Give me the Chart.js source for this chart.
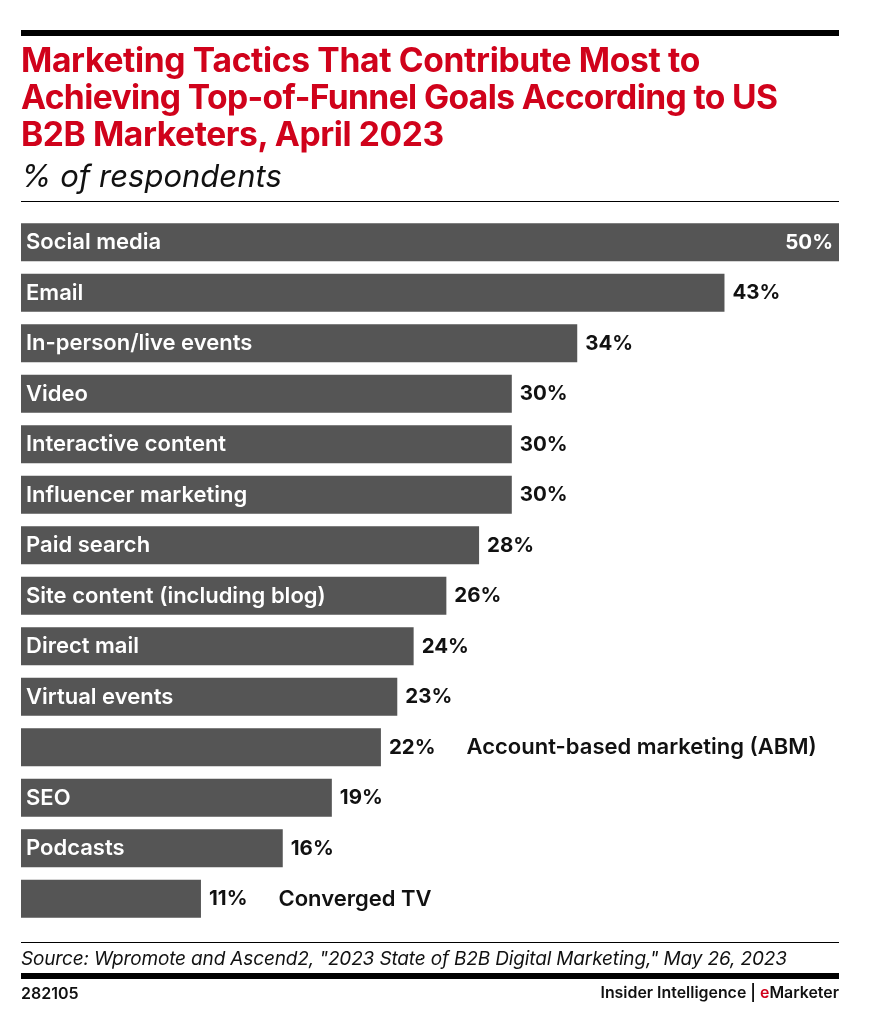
<!DOCTYPE html>
<html>
<head>
<meta charset="utf-8">
<script src="https://cdn.jsdelivr.net/npm/chart.js@4"></script>
<style>
  html, body { margin: 0; padding: 0; background: #fff; }
  #page { position: relative; width: 873px; height: 1024px; overflow: hidden; font-family: Inter, sans-serif; color: #111; }
  #page div { position: absolute; white-space: nowrap; }
  canvas { position: absolute; left: 0; top: 0; }
  .rule { left: 21px; width: 818px; background: #000; }
  .title { left: 21px; font-size: 33.6px; line-height: 38px; font-weight: 700; color: #d0021b; letter-spacing: -0.6px; }
</style>
</head>
<body>
<div id="page">
  <canvas id="chart" width="873" height="1024"></canvas>
  <div class="rule" style="top:30px;height:6px"></div>
  <div class="title" style="top:41px;letter-spacing:-0.33px">Marketing Tactics That Contribute Most to</div>
  <div class="title" style="top:78px">Achieving Top-of-Funnel Goals According to US</div>
  <div class="title" style="top:115px;letter-spacing:-0.4px">B2B Marketers, April 2023</div>
  <div style="left:21px;top:157px;font-size:31px;line-height:38px;font-style:italic;font-weight:400">% of respondents</div>
  <div class="rule" style="top:201px;height:1px"></div>
  <div class="rule" style="top:942px;height:1px"></div>
  <div style="left:21px;top:947px;font-size:19px;line-height:24px;font-style:italic;font-weight:400;letter-spacing:-0.15px">Source: Wpromote and Ascend2, "2023 State of B2B Digital Marketing," May 26, 2023</div>
  <div class="rule" style="top:973px;height:6px"></div>
  <div style="left:21px;top:983px;font-size:16px;line-height:20px;font-weight:600">282105</div>
  <div style="right:34px;top:983px;font-size:15.9px;line-height:20px;font-weight:600">Insider Intelligence | <span style="color:#d0021b">e</span>Marketer</div>
</div>
<script>
const categories = [
    'Social media', 'Email', 'In-person/live events', 'Video', 'Interactive content',
    'Influencer marketing', 'Paid search', 'Site content (including blog)', 'Direct mail',
    'Virtual events', 'Account-based marketing (ABM)', 'SEO', 'Podcasts', 'Converged TV'
];
const shares = [50, 43, 34, 30, 30, 30, 28, 26, 24, 23, 22, 19, 16, 11];
const outsideLabels = ['Account-based marketing (ABM)', 'Converged TV'];

const nameFont = '600 22px Inter, sans-serif';
const valueFont = '700 20.5px Inter, sans-serif';

// category names and percentages are drawn from the bar elements
const barLabels = {
    id: 'barLabels',
    afterDatasetsDraw(chart) {
        const ctx = chart.ctx;
        const bars = chart.getDatasetMeta(0).data;
        ctx.save();
        ctx.textBaseline = 'middle';
        bars.forEach((bar, i) => {
            const text = `${shares[i]}%`;
            const name = categories[i];
            const y = bar.y + 0.5;
            ctx.font = valueFont;
            if (i === 0) {
                ctx.fillStyle = '#fff';
                ctx.textAlign = 'right';
                ctx.fillText(text, bar.x - 6, y);
            } else {
                ctx.fillStyle = '#111';
                ctx.textAlign = 'left';
                ctx.fillText(text, bar.x + 8, y);
            }
            const valueWidth = ctx.measureText(text).width;
            ctx.font = nameFont;
            ctx.textAlign = 'left';
            if (outsideLabels.includes(name)) {
                ctx.fillStyle = '#111';
                ctx.fillText(name, bar.x + 8 + valueWidth + 31, y);
            } else {
                ctx.fillStyle = '#fff';
                ctx.fillText(name, chart.chartArea.left + 5, y);
            }
        });
        ctx.restore();
    }
};

new Chart(document.getElementById('chart').getContext('2d'), {
    type: 'bar',
    data: {
        labels: categories,
        datasets: [{
            data: shares,
            backgroundColor: '#555555',
            borderWidth: 0,
            barPercentage: 0.75,
            categoryPercentage: 1
        }]
    },
    options: {
        indexAxis: 'y',
        responsive: false,
        animation: false,
        layout: { padding: { left: 21, right: 34, top: 217, bottom: 100 } },
        scales: {
            x: { display: false, min: 0, max: 50 },
            y: { display: false }
        },
        plugins: {
            legend: { display: false },
            tooltip: { enabled: false }
        }
    },
    plugins: [barLabels]
});
</script>
</body>
</html>
